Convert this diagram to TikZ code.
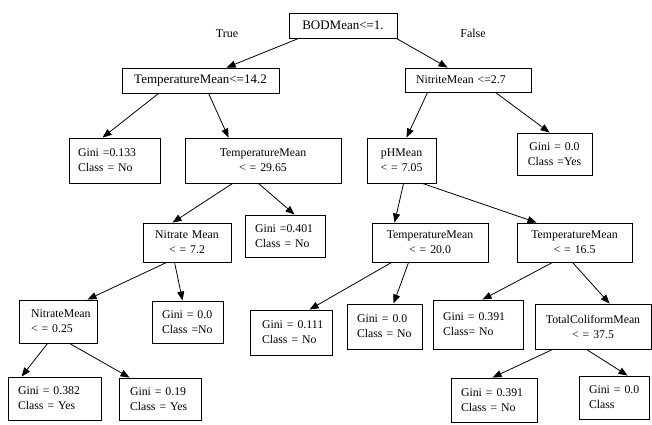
\documentclass[tikz,border=0pt]{standalone}
\usepackage{fontspec}
\setmainfont{Liberation Serif}
\usetikzlibrary{arrows.meta}
\begin{document}
\begin{tikzpicture}[x=1pt,y=-1pt,
  box/.style={draw, line width=0.9pt, inner ysep=0pt, font=\fontsize{11.8}{15}\selectfont},
  ctr/.style={box, align=center, inner xsep=3pt},
  lft/.style={box, align=left},
  big/.style={font=\fontsize{13}{15}\selectfont},
  conn/.style={line width=0.8pt, -{Triangle[length=9pt,width=7pt]}},
  lbl/.style={font=\fontsize{12}{14}\selectfont, inner sep=0pt}]
\useasboundingbox (0,0) rectangle (652,424);
\fill[white] (0,0) rectangle (652,424);

% level 0
\node[ctr, big, text width=102pt, minimum height=25pt] (root) at (343,25.5) {BODMean<=1.};
\node[lbl] (ltrue) at (227,34) {True};
\node[lbl] (lfalse) at (473,33) {False};

% level 1
\node[ctr, big, text width=151pt, minimum height=25pt] (t142) at (200.5,80.5) {TemperatureMean<=14.2};
\node[lft, inner xsep=11pt, text width=104pt, minimum height=24pt] (nitrite) at (468,80) {NitriteMean <=2.7};

% level 2
\node[lft, inner xsep=9pt, text width=73pt, minimum height=45pt] (g133) at (114.5,160.5) {Gini~=0.133\\Class~=~No};
\node[ctr, text width=150pt, minimum height=45pt] (t2965) at (263,160.5) {TemperatureMean\\<~=~29.65};
\node[ctr, text width=63pt, minimum height=45pt] (ph) at (401.5,160.5) {pHMean\\<~=~7.05};
\node[ctr, text width=69pt, minimum height=42pt] (gyes) at (554.5,154) {Gini~=~0.0\\Class~=Yes};

% level 3
\node[ctr, text width=82pt, minimum height=39pt] (n72) at (187,242.5) {Nitrate~Mean\\<~=~7.2};
\node[lft, inner xsep=10pt, text width=60pt, minimum height=42pt] (g401) at (285,236) {Gini~=0.401\\Class~=~No};
\node[ctr, text width=110pt, minimum height=39pt] (t20) at (430,242.5) {TemperatureMean\\<~=~20.0};
\node[ctr, text width=109pt, minimum height=39pt] (t165) at (574.5,242.5) {TemperatureMean\\<~=~16.5};

% level 4
\node[lft, inner xsep=12pt, text width=54pt, minimum height=43pt] (n025) at (58,321.5) {NitrateMean\\<~=~0.25};
\node[lft, inner xsep=10pt, text width=51pt, minimum height=42pt] (g00no) at (187.5,322) {Gini~=~0.0\\Class~=No};
\node[lft, inner xsep=12pt, text width=58pt, minimum height=45pt] (g111) at (291,332.5) {Gini~=~0.111\\Class~=~No};
\node[lft, inner xsep=10pt, text width=55pt, minimum height=45pt] (g00no2) at (384.5,326.5) {Gini~=~0.0\\Class~=~No};
\node[lft, inner xsep=10pt, text width=70pt, minimum height=49pt] (g391) at (478,324.5) {Gini~=~0.391\\Class=~No};
\node[ctr, text width=110pt, minimum height=45pt] (tcol) at (593,326.5) {TotalColiformMean\\<~=~37.5};

% level 5
\node[lft, inner xsep=10pt, text width=73pt, minimum height=43pt] (g382) at (54.5,398.5) {Gini~=~0.382\\Class~=~Yes};
\node[lft, inner xsep=11pt, text width=60pt, minimum height=42pt] (g19) at (160,399) {Gini~=~0.19\\Class~=~Yes};
\node[lft, inner xsep=10pt, text width=66pt, minimum height=44pt] (g391b) at (494,400) {Gini~=~0.391\\Class~=~No};
\node[lft, inner xsep=10pt, text width=50pt, minimum height=43pt] (g00cl) at (614,397.5) {Gini~=~0.0\\Class};

% connectors
\draw[conn] ([xshift=10pt]root.south west) -- ([xshift=105pt]t142.north west);
\draw[conn] ([xshift=-1pt]root.south east) -- ([xshift=43pt]nitrite.north west);
\draw[conn] ([xshift=37pt]t142.south west) -- ([xshift=34pt]g133.north west);
\draw[conn] ([xshift=87pt]t142.south west) -- ([xshift=44pt]t2965.north west);
\draw[conn] ([xshift=23pt]nitrite.south west) -- ([xshift=40pt]ph.north west);
\draw[conn] ([xshift=91pt]nitrite.south west) -- ([xshift=33pt]gyes.north west);
\draw[conn] ([xshift=48pt]t2965.south west) -- ([xshift=30pt]n72.north west);
\draw[conn] ([xshift=74pt]t2965.south west) -- ([xshift=50pt]g401.north west);
\draw[conn] ([xshift=37pt]ph.south west) -- ([xshift=23pt]t20.north west);
\draw[conn] ([xshift=56pt]ph.south west) -- ([xshift=20pt]t165.north west);
\draw[conn] ([xshift=24pt]n72.south west) -- ([xshift=69pt]n025.north west);
\draw[conn] ([xshift=32pt]n72.south west) -- ([xshift=31pt]g00no.north west);
\draw[conn] ([xshift=29pt]n025.south west) -- ([xshift=14pt]g382.north west);
\draw[conn] ([xshift=51pt]n025.south west) -- ([xshift=11pt]g19.north west);
\draw[conn] ([xshift=20pt]t20.south west) -- ([xshift=60pt]g111.north west);
\draw[conn] ([xshift=37pt]t20.south west) -- ([xshift=47pt]g00no2.north west);
\draw[conn] ([xshift=36pt]t165.south west) -- ([xshift=50pt]g391.north west);
\draw[conn] ([xshift=56pt]t165.south west) -- ([xshift=75pt]tcol.north west);
\draw[conn] ([xshift=18pt]tcol.south west) -- ([xshift=42pt]g391b.north west);
\draw[conn] ([xshift=52pt]tcol.south west) -- ([xshift=49pt]g00cl.north west);
\end{tikzpicture}
\end{document}
